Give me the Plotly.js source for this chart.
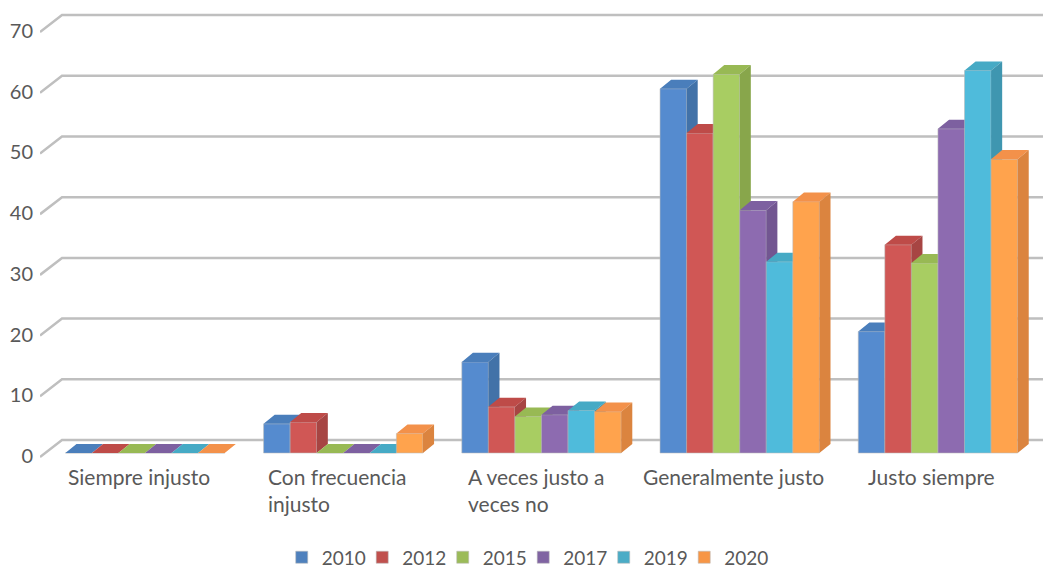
<!DOCTYPE html>
<html><head><meta charset="utf-8">
<script src="https://cdn.plot.ly/plotly-3.0.1.min.js"></script>
<style>html,body{margin:0;padding:0;background:#fff}</style></head>
<body><div id="chart" style="width:1043px;height:569px"></div>
<script>
const categories = ["Siempre injusto","Con frecuencia<br>injusto","A veces justo a<br>veces no","Generalmente justo","Justo siempre"];
const years = ["2010","2012","2015","2017","2019","2020"];
const s2010 = [0,4.8,15,60,20];
const s2012 = [0,5.1,7.6,52.7,34.3];
const s2015 = [0,0,6,62.4,31.3];
const s2017 = [0,0,6.3,40,53.4];
const s2019 = [0,0,7,31.5,63];
const s2020 = [0,3.2,6.8,41.4,48.4];
const series = [s2010,s2012,s2015,s2017,s2019,s2020];
const frontColors = ["#558BCF","#D05755","#A8CD62","#8D6BB0","#4FBBDB","#FFA34D"];
const topColors = ["#4A7EBB","#BE4B48","#98B954","#7D60A0","#46AAC5","#F3914A"];
const sideColors = ["#4272A8","#A74543","#88A64B","#725691","#3F96B0","#DB843F"];
const legendColors = ["#4F81BD","#C0504D","#9BBB59","#8064A2","#4BACC6","#F79646"];
const gridValues = [0,10,20,30,40,50,60,70];

const textColor = "#595959", font = "Lato";
const xRange = [-0.53,4.53], yRange = [-1.153,73.8];
const barW = 0.134, depthX = 0.056, depthY = 1.5;
const wallX = 0.111, wallUp = 2.14, wallDown = 0.66;

const traces = [];
traces.push({type:"scatter",mode:"lines",showlegend:false,hoverinfo:"skip",
  line:{color:"#BFBFBF",width:2.5},
  x:gridValues.flatMap(()=>[xRange[0],xRange[0]+wallX,xRange[1],null]),
  y:gridValues.flatMap(v=>[v-wallDown,v+wallUp,v+wallUp,null])});

const layout = {
  width:1043,height:569,margin:{l:40,r:0,t:5,b:109,autoexpand:false},
  paper_bgcolor:"#fff",plot_bgcolor:"rgba(0,0,0,0)",showlegend:true,
  font:{family:font,color:textColor,size:20},
  xaxis:{range:xRange,showgrid:false,zeroline:false,showticklabels:false,ticks:"",showline:false,fixedrange:true},
  yaxis:{range:yRange,tickvals:gridValues,showgrid:false,zeroline:false,showline:false,ticks:"",
    tickfont:{family:font,size:20,color:textColor},ticklabelshift:3,ticklabelstandoff:6,fixedrange:true},
  legend:{orientation:"h",x:0.241,xanchor:"left",y:-0.214,yanchor:"middle",
    entrywidth:35.5,entrywidthmode:"pixels",font:{family:font,size:19,color:textColor},traceorder:"normal"},
  annotations:categories.map((c,i)=>({text:c,x:i,xref:"x",y:0,yref:"paper",xanchor:"center",yanchor:"top",
    align:"left",xshift:-6,yshift:-2,showarrow:false,font:{family:font,size:21,color:textColor}}))
};

series.forEach((vals,k)=>{
  const yName = "y"+(k+2), axName = "yaxis"+(k+2);
  layout[axName] = {overlaying:"y",range:yRange,visible:false,fixedrange:true};
  const off = -3*barW + k*barW;
  const xi = vals.map((_,i)=>i);
  traces.push({type:"bar",name:years[k],x:xi,y:vals,yaxis:yName,width:barW,offset:off,
    legendwidth:k===series.length-1?60:undefined,
    marker:{color:vals.map((_,i)=>i===0?legendColors[k]:frontColors[k]),line:{color:"rgba(185,185,185,0.55)",width:1}},
    hoverinfo:"name+y"});
  traces.push({type:"scatter",mode:"none",fill:"toself",fillcolor:topColors[k],showlegend:false,hoverinfo:"skip",yaxis:yName,
    x:vals.flatMap((v,i)=>{const a=i+off,b=a+barW;return [a,b,b+depthX,a+depthX,a,null];}),
    y:vals.flatMap(v=>[v,v,v+depthY,v+depthY,v,null])});
  traces.push({type:"scatter",mode:"none",fill:"toself",fillcolor:sideColors[k],showlegend:false,hoverinfo:"skip",yaxis:yName,
    x:vals.flatMap((v,i)=>{const b=i+off+barW;return [b,b+depthX,b+depthX,b,b,null];}),
    y:vals.flatMap(v=>[0,depthY,v+depthY,v,0,null])});
});
Plotly.newPlot("chart",traces,layout,{displayModeBar:false});
</script></body></html>
